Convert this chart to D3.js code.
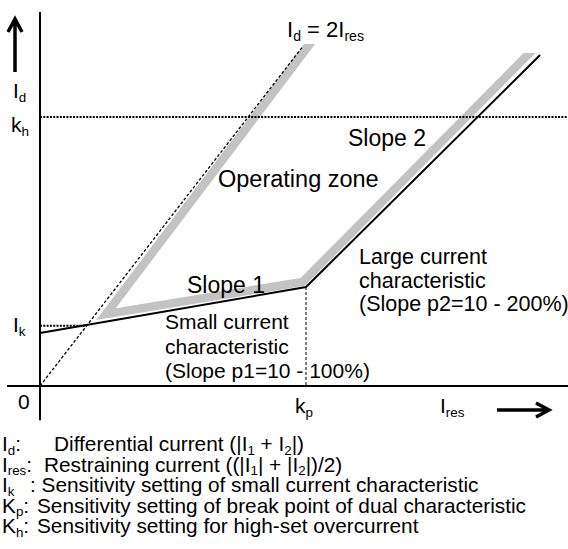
<!DOCTYPE html>
<html><head><meta charset="utf-8">
<script src="https://cdn.jsdelivr.net/npm/d3@7"></script>
<style>html,body{margin:0;padding:0;background:#fff;}svg{display:block;}text{font-family:"Liberation Sans",Arial,sans-serif;fill:#000;white-space:pre;}</style>
</head><body>
<script>
// Characteristic (Ires, Id) in relative units
const charRes = [0, 5, 9.4];
const charId = [1.54, 2.88, 9.63];
// Id = 2 Ires line
const diffRes = [0, 4.95];
const diffId = [0, 9.9];
// Operating zone boundary band
const bandRes = [5.16, 1.24, 4.94, 9.35];
const bandId = [10.13, 2.09, 3.03, 9.92];
const bandTopLeft = 9.95, bandTopRight = 9.69;
// Settings
const ik = 1.75, kp = 5, kh = 7.83;
const ikRes = 0.88;
// legend: [label parts, x of text, text parts]
const legendLines = [
  [[["I",""],["d","sub"],[":",""]], 54, [["Differential current (|I",""],["1","sub"],[" + I",""],["2","sub"],["|)",""]]],
  [[["I",""],["res","sub"],[":",""]], 44, [["Restraining current ((|I",""],["1","sub"],["| + |I",""],["2","sub"],["|)/2)",""]]],
  [[["I",""],["k","sub"]], 30, [[": Sensitivity setting of small current characteristic",""]]],
  [[["K",""],["p","sub"],[":",""]], 37, [["Sensitivity setting of break point of dual characteristic",""]]],
  [[["K",""],["h","sub"],[":",""]], 37, [["Sensitivity setting for high-set overcurrent",""]]]
];

const W = 568, H = 549;
const svg = d3.select("body").append("svg").attr("width", W).attr("height", H);
const x = d3.scaleLinear().domain([0, 10]).range([40, 572]);
const y = d3.scaleLinear().domain([0, 10]).range([386, 42.3]);

const defs = svg.append("defs");
const cp = defs.append("clipPath").attr("id", "bandclip");
cp.append("rect").attr("x", 0).attr("y", y(bandTopLeft)).attr("width", x(7)).attr("height", H);
cp.append("rect").attr("x", x(7)).attr("y", y(bandTopRight)).attr("width", W).attr("height", H);

const line = d3.line().x(d => x(d[0])).y(d => y(d[1]));

// gray band
svg.append("path").attr("d", line(bandRes.map((r, i) => [r, bandId[i]])))
  .attr("fill", "none").attr("stroke", "#c3c3c3").attr("stroke-width", 8.5)
  .attr("stroke-linejoin", "miter").attr("clip-path", "url(#bandclip)");

// kh dotted line
svg.append("line").attr("x1", x(0)).attr("x2", W).attr("y1", y(kh)).attr("y2", y(kh))
  .attr("stroke", "#000").attr("stroke-width", 2).attr("stroke-dasharray", "2,1.3");
// Ik dotted
svg.append("line").attr("x1", x(0)).attr("x2", x(ikRes)).attr("y1", y(ik)).attr("y2", y(ik))
  .attr("stroke", "#000").attr("stroke-width", 2).attr("stroke-dasharray", "2,1.3");
// kp vertical dashed
svg.append("line").attr("x1", x(kp)).attr("x2", x(kp)).attr("y1", y(charId[1])).attr("y2", y(0))
  .attr("stroke", "#000").attr("stroke-width", 1).attr("stroke-dasharray", "3,2");
// Id = 2Ires
svg.append("path").attr("d", line(diffRes.map((r, i) => [r, diffId[i]])))
  .attr("fill", "none").attr("stroke", "#000").attr("stroke-width", 1.3).attr("stroke-dasharray", "3,2");
// characteristic
svg.append("path").attr("d", line(charRes.map((r, i) => [r, charId[i]])))
  .attr("fill", "none").attr("stroke", "#000").attr("stroke-width", 2);

// axes
svg.append("line").attr("x1", x(-0.62)).attr("x2", W).attr("y1", y(0)).attr("y2", y(0))
  .attr("stroke", "#000").attr("stroke-width", 2);
svg.append("line").attr("x1", x(0)).attr("x2", x(0)).attr("y1", y(-1)).attr("y2", y(10.88))
  .attr("stroke", "#000").attr("stroke-width", 2);

// arrows
svg.append("path").attr("d", "M15,72 L15,20 M8,32 L15,19 L22,32")
  .attr("fill", "none").attr("stroke", "#000").attr("stroke-width", 3.5).attr("stroke-linejoin", "miter");
svg.append("path").attr("d", "M497,410 L548,410 M536,403 L549,410 L536,417")
  .attr("fill", "none").attr("stroke", "#000").attr("stroke-width", 3.5).attr("stroke-linejoin", "miter");

function rich(parent, xx, yy, size, parts) {
  const t = parent.append("text").attr("x", xx).attr("y", yy).attr("font-size", size);
  let sub = false;
  const sh = size * 0.18;
  parts.forEach(([s, k]) => {
    const ts = t.append("tspan").text(s);
    if (k === "sub") {
      ts.attr("font-size", size * 0.64);
      if (!sub) { ts.attr("dy", sh); sub = true; }
    } else if (sub) { ts.attr("dy", -sh); sub = false; }
  });
  return t;
}

// axis labels
rich(svg, 13, 98, 21, [["I",""],["d","sub"]]);
rich(svg, 11, 132, 21, [["k",""],["h","sub"]]);
rich(svg, 13, 332, 21, [["I",""],["k","sub"]]);
rich(svg, 18, 409, 21, [["0",""]]);
rich(svg, x(kp) - 11, 413, 21, [["k",""],["p","sub"]]);
rich(svg, 440, 413, 21, [["I",""],["res","sub"]]);
rich(svg, 287, 37, 22, [["I",""],["d","sub"],[" = 2I",""],["res","sub"]]);

svg.append("text").attr("x", 218).attr("y", 187).attr("font-size", 23.5).text("Operating zone");
svg.append("text").attr("x", 348).attr("y", 146).attr("font-size", 23).text("Slope 2");
svg.append("text").attr("x", 187).attr("y", 293).attr("font-size", 23).text("Slope 1");

const small = ["Small current", "characteristic", "(Slope p1=10 - 100%)"];
small.forEach((s, i) => svg.append("text").attr("x", 165).attr("y", 329 + i * 24.5).attr("font-size", 21).text(s));
const large = ["Large current", "characteristic", "(Slope p2=10 - 200%)"];
large.forEach((s, i) => svg.append("text").attr("x", 359).attr("y", 264 + i * 23.5).attr("font-size", 21.5).text(s));

// legend
const ly0 = 451, ldy = 20.5, lfs = 20.8;
legendLines.forEach(([lab, tx, parts], i) => {
  rich(svg, 2, ly0 + i * ldy, lfs, lab);
  rich(svg, tx, ly0 + i * ldy, lfs, parts);
});
</script>
</body></html>
